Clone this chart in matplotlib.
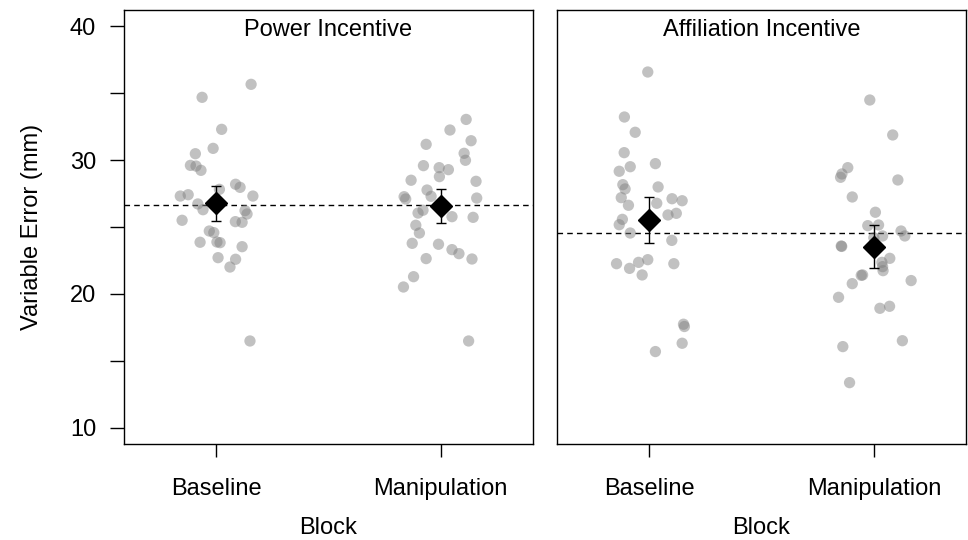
import numpy as np
import matplotlib
matplotlib.use("Agg")
import matplotlib.pyplot as plt

plt.rcParams['font.family'] = ['Liberation Sans', 'DejaVu Sans']

# panel titles, block names and reference lines (grand means)
panels = ["Power Incentive", "Affiliation Incentive"]
blocks = ["Baseline", "Manipulation"]
grand_means = [26.64, 24.53]

# per-block means and error bar ends (low, high)
means = [[26.77, 26.57], [25.50, 23.53]]
err_lo = [[25.45, 25.27], [23.81, 21.91]]
err_hi = [[28.08, 27.81], [27.22, 25.13]]

# individual participants: values and horizontal jitter (in block units)
power_base = [35.65, 34.68, 32.29, 30.47, 30.87, 29.60, 29.55, 29.23, 28.19, 27.96,
              27.31, 27.41, 27.81, 27.31, 26.72, 26.29, 26.22, 25.97, 25.50, 25.40,
              25.35, 24.70, 24.58, 23.86, 23.88, 23.83, 23.53, 22.71, 22.59, 22.01, 16.49]
power_base_jit = [0.156, -0.062, 0.025, -0.092, -0.013, -0.114, -0.089, -0.067, 0.087, 0.107,
                  -0.159, -0.124, 0.015, 0.164, -0.081, -0.058, 0.129, 0.138, -0.151, 0.086,
                  0.116, -0.030, -0.010, -0.071, 0.004, 0.018, 0.116, 0.009, 0.087, 0.062, 0.151]

power_manip = [33.03, 32.24, 31.44, 31.17, 30.50, 29.98, 29.58, 29.43, 29.28, 28.76,
               28.49, 28.41, 27.76, 27.29, 27.26, 27.09, 27.16, 26.25, 26.04, 25.77,
               25.72, 25.13, 24.55, 23.78, 23.71, 23.31, 23.01, 22.64, 22.61, 21.29,
               20.52, 16.49]
power_manip_jit = [0.113, 0.041, 0.135, -0.065, 0.104, 0.110, -0.077, -0.007, 0.034, -0.006,
                   -0.132, 0.157, -0.061, -0.043, -0.163, -0.156, 0.160, -0.079, -0.101, 0.050,
                   0.144, -0.111, -0.095, -0.127, -0.010, 0.050, 0.081, -0.065, 0.139, -0.121,
                   -0.166, 0.124]

affil_base = [36.57, 33.21, 32.07, 30.55, 29.50, 29.16, 29.73, 28.16, 27.84, 27.99,
              27.19, 27.11, 26.96, 26.77, 26.62, 26.02, 25.90, 25.57, 25.17, 24.55,
              24.00, 22.26, 22.26, 22.56, 22.36, 21.91, 21.42, 17.74, 17.57, 16.32, 15.70]
affil_base_jit = [-0.006, -0.110, -0.062, -0.111, -0.084, -0.133, 0.028, -0.117, -0.107, 0.040,
                  -0.124, 0.102, 0.147, 0.034, -0.092, 0.121, 0.084, -0.119, -0.133, -0.084,
                  0.101, -0.145, 0.110, -0.006, -0.047, -0.087, -0.031, 0.153, 0.157, 0.147, 0.028]

affil_manip = [34.48, 31.87, 29.43, 28.96, 28.71, 28.51, 27.24, 26.10, 25.10, 25.15,
               24.20, 24.33, 24.70, 24.33, 23.58, 23.55, 22.66, 22.36, 21.74, 22.04,
               21.39, 21.42, 20.77, 21.00, 19.75, 18.93, 19.08, 16.07, 16.51, 13.38]
affil_manip_jit = [-0.018, 0.084, -0.116, -0.142, -0.148, 0.107, -0.096, 0.007, -0.027, 0.021,
                   0.000, 0.039, 0.121, 0.138, -0.145, -0.143, 0.071, 0.036, 0.041, 0.039,
                   -0.056, -0.050, -0.096, 0.166, -0.157, 0.027, 0.070, -0.138, 0.127, -0.108]

points = [[(power_base, power_base_jit), (power_manip, power_manip_jit)],
          [(affil_base, affil_base_jit), (affil_manip, affil_manip_jit)]]

fig = plt.figure(figsize=(9.68, 5.4), dpi=100)
axes = [fig.add_axes([0.128, 0.1778, 0.4225, 0.8037]),
        fig.add_axes([0.5754, 0.1778, 0.4225, 0.8037])]

for p, ax in enumerate(axes):
    for b in range(2):
        vals, jit = points[p][b]
        ax.scatter(np.array(jit) + b + 1, vals, s=66, color='#7f7f7f', alpha=0.48,
                   edgecolors='none', zorder=2)
        ax.errorbar(b + 1, means[p][b],
                    yerr=[[means[p][b] - err_lo[p][b]], [err_hi[p][b] - means[p][b]]],
                    fmt='none', ecolor='black', elinewidth=1, capsize=3.5, capthick=1, zorder=3)
        ax.plot(b + 1, means[p][b], marker='D', color='black', markersize=11, zorder=4)
    ax.axhline(grand_means[p], color='black', lw=1, ls=(0, (4, 3)), zorder=1)

    ax.set_xlim(0.59, 2.41)
    ax.set_ylim(8.8, 41.2)
    ax.set_xticks([1, 2])
    ax.set_xticklabels(blocks, fontsize=17)
    ax.tick_params(axis='x', length=9.5, width=1, pad=15)
    ax.set_xlabel("Block", fontsize=17, labelpad=12)
    ax.text(0.5, 0.953, panels[p], transform=ax.transAxes, ha='center', va='center',
            fontsize=17)
    for sp in ax.spines.values():
        sp.set_linewidth(1)

axes[0].set_yticks([10, 15, 20, 25, 30, 35, 40])
axes[0].set_yticklabels(['10', '', '20', '', '30', '', '40'], fontsize=17)
axes[0].tick_params(axis='y', length=10, width=1, pad=10)
axes[0].set_ylabel("Variable Error (mm)", fontsize=17, labelpad=19)
axes[1].set_yticks([])

fig.savefig("out.png", dpi=100)
